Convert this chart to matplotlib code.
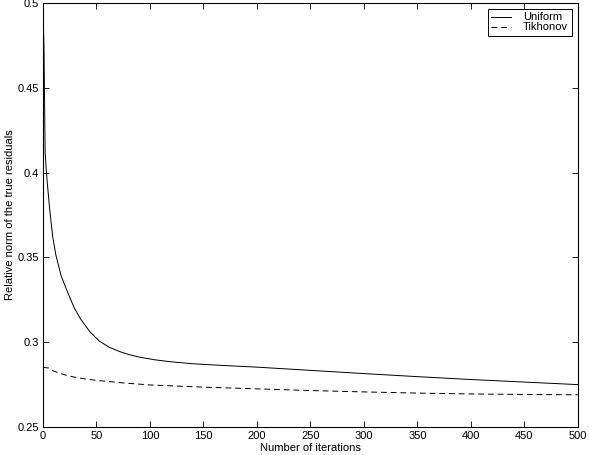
import matplotlib
matplotlib.use('Agg')
from matplotlib import pyplot as plt

plt.rcParams['font.family'] = ['Liberation Sans', 'DejaVu Sans']

# values
iter_uniform = [0, 1, 2, 3, 4, 5, 6, 9, 12, 17, 23, 29, 35, 44, 53, 62, 72, 81, 91,
                105, 119, 140, 165, 200, 250, 300, 350, 400, 450, 500]
res_uniform = [0.500, 0.470, 0.412, 0.402, 0.394, 0.387, 0.380, 0.3625, 0.3515, 0.3390,
               0.3295, 0.3205, 0.3138, 0.3060, 0.3005, 0.2970, 0.2944, 0.2926, 0.2911,
               0.2896, 0.2885, 0.2873, 0.2864, 0.2853, 0.2834, 0.2815, 0.2797,
               0.2780, 0.2765, 0.2750]

iter_tikhonov = [0, 5, 10, 20, 30, 40, 50, 75, 100, 150, 200, 250, 300, 350, 400, 450, 500]
res_tikhonov = [0.2852, 0.2848, 0.2830, 0.2808, 0.2793, 0.2783, 0.2775, 0.2760, 0.2748,
                0.2735, 0.2725, 0.2715, 0.2707, 0.2700, 0.2695, 0.2692, 0.2690]

fig = plt.figure(figsize=(5.89, 4.55), dpi=100)
ax = fig.add_axes([0.073, 0.0615, 0.908, 0.932])

ax.plot(iter_uniform, res_uniform, color='black', lw=0.7, label='Uniform')
ax.plot(iter_tikhonov, res_tikhonov, color='black', lw=0.7, ls=(0, (6, 4)), label='Tikhonov')

ax.set_xlim(0, 500)
ax.set_ylim(0.25, 0.5)
ax.set_xticks(range(0, 501, 50))
ax.set_yticks([0.25, 0.3, 0.35, 0.4, 0.45, 0.5])
ax.set_yticklabels(['0.25', '0.3', '0.35', '0.4', '0.45', '0.5'])
ax.tick_params(direction='in', top=True, right=True, labelsize=8, length=4, width=0.6, pad=3)
for s in ax.spines.values():
    s.set_linewidth(0.8)

ax.set_xlabel('Number of iterations', fontsize=8, labelpad=1)
ax.set_ylabel('Relative norm of the true residuals', fontsize=8, labelpad=2)

leg = ax.legend(loc='upper right', fontsize=8, fancybox=False, framealpha=1,
                edgecolor='black', borderpad=0.3, handlelength=1.8, labelspacing=0.0,
                handletextpad=1.1, borderaxespad=0.55)
leg.get_frame().set_linewidth(0.7)

fig.savefig('out.png', dpi=100)
